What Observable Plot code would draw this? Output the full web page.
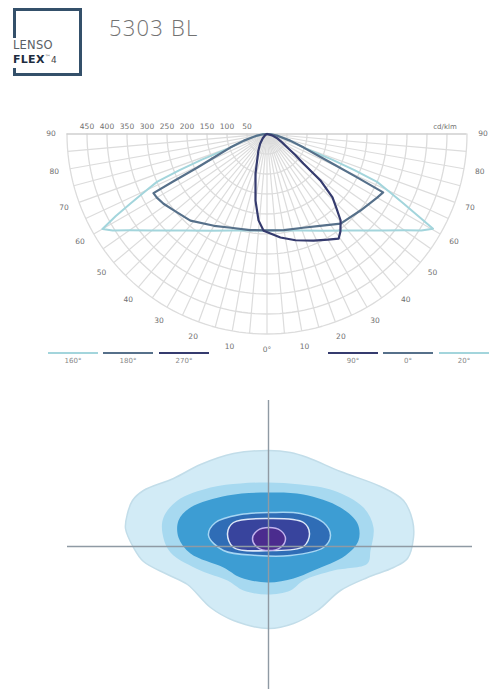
<!DOCTYPE html>
<html><head><meta charset="utf-8">
<script src="https://cdn.jsdelivr.net/npm/d3@7"></script>
<script src="https://cdn.jsdelivr.net/npm/@observablehq/plot@0.6"></script>
<style>
body{margin:0;background:#fff;font-family:"DejaVu Sans",sans-serif}
#page{position:relative;width:490px;height:689px;overflow:hidden;background:#fff}
#logo{position:absolute;left:13px;top:8px;width:63px;height:62px;border:3px solid #34506a}
#logoTxt{position:absolute;left:12px;top:38px;background:#fff;padding:1px 2px 2px 1px;line-height:12px}
#logoTxt .l1{font-family:"DejaVu Sans";font-size:11.5px;color:#5a5f66;letter-spacing:0.2px}
#logoTxt .l2{font-family:"DejaVu Sans";font-weight:bold;font-size:11px;color:#1d2c40;letter-spacing:0.3px}
#logoTxt .l2 small{font-size:6px;font-weight:normal;color:#555;vertical-align:4px}
#logoTxt .l2 span{font-weight:normal;font-size:9px;color:#444}
#title{position:absolute;left:109px;top:12px;font-family:"Open Sans";font-weight:300;font-size:22px;color:#727272;letter-spacing:1.2px}
#polar{position:absolute;left:0;top:100px}
#iso{position:absolute;left:0;top:390px}
.sw{position:absolute;height:0;border-top:2px solid #888}
.swt{position:absolute;font-size:7px;color:#888;text-align:center}
</style></head><body>
<div id="page">
  <div id="logo"></div>
  <div id="logoTxt"><div class="l1">LENSO</div><div class="l2">FLEX<small>™</small><span>4</span></div></div>
  <div id="title">5303 BL</div>
  <div id="polar"></div>
  <div id="iso"></div>
</div>
<script>
// ---------- Polar photometry data (angle from nadir in degrees, negative = left half; intensity in cd/klm)
const curveA_angle = [-90,-86,-80,-74,-69.7,-68.5,-67.5,-66.5,-64.5,-63,-61.5,-60,-58,-55,-50,-45,-40,-30,-20,-10,0,10,20,30,40,45,50,55,58,60.3,61.5,63,64.5,66.5,67.5,68.5,69.7,74,80,86,90];
const curveA_cd    = [0,10,28,60,98,175,238,300,343,383,430,475,455,420,375,341,315,279,257,245,241,245,257,279,315,341,375,420,455,478,430,383,343,300,238,175,98,60,28,10,0];
const curveB_angle = [-90,-86,-80,-74,-69.7,-66.5,-64.3,-63.2,-62.5,-60,-56,-50,-41.5,-30,-21,-10,0,10,21,30,39.4,50.7,56,60,63.3,64.3,65.5,67,69.7,74,80,86,90];
const curveB_cd    = [0,10,28,60,98,138,193,263,320,318,312,300,289,265,251,244,241,244,251,265,290,302,310,318,325,250,188,138,98,60,28,10,0];
const curveC_angle = [-90,-60,-45,-35,-27.3,-16.2,-9.8,-5.6,-2,7.4,15,23.6,30,34.4,37,40.4,43,45.9,49,51,53.5,56.6,61,66.8,75,90];
const curveC_cd    = [0,5,15,30,47,103,169,217,242,261,275,291,305,317,305,284,255,228,177,117,88,61,43,29,13,0];
const curveColors = {A:"#a3d5dc", B:"#56708a", C:"#353b6e"};
const ringValues = [50,100,150,200,250,300,350,400,450,500];
const ringLabels = [450,400,350,300,250,200,150,100,50];
const angleLabels = [0,10,20,30,40,50,60,70,80,90];
const unitLabel = "cd/klm";
const legendLeft  = [{label:"160°", key:"A"},{label:"180°", key:"B"},{label:"270°", key:"C"}];
const legendRight = [{label:"90°", key:"C"},{label:"0°", key:"B"},{label:"20°", key:"A"}];

// ---------- Isolux contour data (x, y in metres relative to luminaire, y up)
const iso1x = [0,2.2,3.9,7.2,11.2,13.5,14.4,14.5,13.9,12.5,9.9,7.2,4.9,2.5,0,-3.5,-5.8,-8.1,-10.1,-12.5,-13.5,-14.3,-14.1,-13.6,-12.5,-9.5,-6.8,-3.5];
const iso1y = [9.6,9.4,8.9,7.5,6.0,4.6,2.6,0.9,-1.2,-2.1,-3.1,-4.4,-6.4,-7.7,-8.2,-7.4,-6.1,-3.8,-2.8,-1.5,-0.1,1.8,3.3,4.6,5.6,6.8,8.2,9.3];
const iso2x = [-0.1,3.2,6.5,9.5,10.5,10.2,9.9,6.5,3.5,2.2,-0.1,-2.5,-4.1,-6.8,-9.8,-10.6,-10.5,-9.1,-5.8,-2.8];
const iso2y = [6.4,6.2,5.6,3.9,1.9,-0.4,-1.7,-2.4,-3.4,-4.4,-4.8,-4.4,-3.4,-2.4,-0.6,1.3,2.9,4.6,5.9,6.3];
const iso3x = [-0.1,3.5,7.2,8.9,9.0,7.7,4.5,2.5,-0.1,-2.8,-4.5,-7.8,-9.0,-9.0,-7.8,-4.1];
const iso3y = [5.4,5.2,3.9,2.3,0.6,-0.9,-2.4,-3.2,-3.6,-3.1,-2.1,-0.7,0.9,2.6,3.9,5.1];
const iso4x = [0.2,3.2,5.5,6.2,5.5,2.2,-1.1,-4.5,-6.0,-5.3,-2.8];
const iso4y = [3.4,3.3,2.4,1.1,-0.1,-0.9,-0.9,-0.4,1.1,2.4,3.2];
const iso5x = [0.2,3.5,4.1,3.5,0.2,-3.5,-4.1,-3.5];
const iso5y = [2.8,2.4,1.3,0.0,-0.4,-0.1,1.3,2.4];
const iso6x = [0.05,1.2,1.7,1.2,0.05,-1.1,-1.6,-1.1];
const iso6y = [1.9,1.6,0.75,-0.1,-0.4,-0.1,0.75,1.6];
const isoFill   = ["#d2ebf6","#a7d9f0","#3d9dd3","#2f6db6","#38449d","#4b2c8e"];
const isoStroke = ["#c2dde9","none","none","#a6d6f3","#dde8f8","#c3b3ee"];

// ---------- build polar
const rad = d => d*Math.PI/180;
const toXY = (angles, cds, key) => angles.map((a,i)=>({x: cds[i]*Math.sin(rad(a)), y: -cds[i]*Math.cos(rad(a)), key}));
const ptsA = toXY(curveA_angle, curveA_cd, "A");
const ptsB = toXY(curveB_angle, curveB_cd, "B");
const ptsC = toXY(curveC_angle, curveC_cd, "C");

const ringPts = [];
for (const v of ringValues) for (let a=-90;a<=90;a+=2) ringPts.push({ring:v, x:v*Math.sin(rad(a)), y:-v*Math.cos(rad(a))});
const spokes = [];
for (let a=-85;a<=85;a+=5) spokes.push({x2:500*Math.sin(rad(a)), y2:-500*Math.cos(rad(a))});
const labR = 540;
const angLab = [];
for (const a of angleLabels) {
  if (a===0) angLab.push({x:0,y:-labR,t:"0°"});
  else { angLab.push({x:-labR*Math.sin(rad(a)), y:-labR*Math.cos(rad(a)), t:String(a)});
         angLab.push({x: labR*Math.sin(rad(a)), y:-labR*Math.cos(rad(a)), t:String(a)}); }
}
const k = 0.4; // px per cd
const W = 490, H = 280, cx = 266.5, cy = 33.5;
const polar = Plot.plot({
  width: W, height: H, margin: 0,
  x: {domain: [-cx/k, (W-cx)/k], axis: null},
  y: {domain: [-(H-cy)/k, cy/k], axis: null},
  style: {background: "transparent", fontFamily: "DejaVu Sans"},
  marks: [
    Plot.line(ringPts, {x:"x", y:"y", z:"ring", stroke:"#dcdcdc", strokeWidth:1.3}),
    Plot.link(spokes, {x1:0, y1:0, x2:"x2", y2:"y2", stroke:"#dcdcdc", strokeWidth:1.2}),
    Plot.ruleY([0], {x1:-500, x2:500, stroke:"#cfcfcf", strokeWidth:1.3}),
    Plot.line(ptsA, {x:"x", y:"y", stroke:curveColors.A, strokeWidth:2, strokeLinejoin:"round"}),
    Plot.line(ptsB, {x:"x", y:"y", stroke:curveColors.B, strokeWidth:2.2, strokeLinejoin:"round"}),
    Plot.line(ptsC, {x:"x", y:"y", stroke:curveColors.C, strokeWidth:2.2, strokeLinejoin:"round"}),
    Plot.text(ringLabels, {x: d=>-d, y:0, text: d=>String(d), dy:-7, fontSize:7.5, fill:"#707070"}),
    Plot.text([unitLabel], {x:445, y:0, text:d=>d, dy:-7, fontSize:7, fill:"#707070"}),
    Plot.text(angLab, {x:"x", y:"y", text:"t", fontSize:7.5, fill:"#707070"})
  ]
});
document.getElementById("polar").appendChild(polar);

// legend (HTML, under the semicircle)
const page = document.getElementById("page");
function addLegend(items, lefts){
  items.forEach((it,i)=>{
    const s=document.createElement("div"); s.className="sw";
    s.style.left=lefts[i]+"px"; s.style.top="352px"; s.style.width="50px"; s.style.borderTopColor=curveColors[it.key];
    page.appendChild(s);
    const t=document.createElement("div"); t.className="swt";
    t.style.left=lefts[i]+"px"; t.style.top="357px"; t.style.width="50px"; t.textContent=it.label;
    page.appendChild(t);
  });
}
addLegend(legendLeft, [48,103,159]);
addLegend(legendRight, [328,383,439]);

// ---------- isolux
const isoSets = [[iso1x,iso1y],[iso2x,iso2y],[iso3x,iso3y],[iso4x,iso4y],[iso5x,iso5y],[iso6x,iso6y]];
const IW = 490, IH = 299, icx = 268, icy = 156, s = 10;
const isoMarks = isoSets.map(([xs,ys],i)=>Plot.line(xs.map((x,j)=>({x, y:ys[j]})), {
  x:"x", y:"y", curve:"catmull-rom-closed", fill:isoFill[i], stroke:isoStroke[i], strokeWidth:1.5
}));
const iso = Plot.plot({
  width: IW, height: IH, margin: 0,
  x: {domain: [-icx/s, (IW-icx)/s], axis: null},
  y: {domain: [-(IH-icy)/s, icy/s], axis: null},
  style: {background: "transparent"},
  marks: [
    ...isoMarks,
    Plot.ruleY([0], {x1:-20.1, x2:20.4, stroke:"#8f9aa4", strokeWidth:1.4}),
    Plot.ruleX([0], {y1:-14.3, y2:14.6, stroke:"#8f9aa4", strokeWidth:1.4})
  ]
});
document.getElementById("iso").appendChild(iso);
</script>
</body></html>
